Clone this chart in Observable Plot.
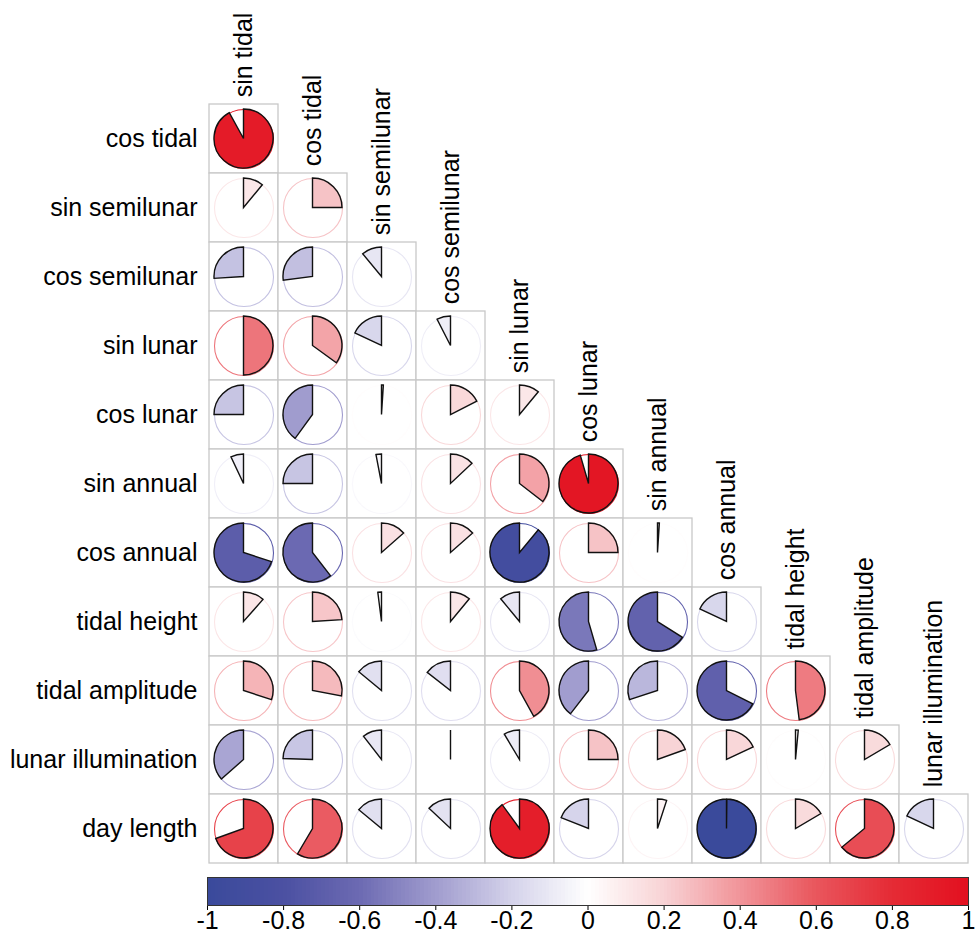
<!DOCTYPE html>
<html><head><meta charset="utf-8">
<script src="https://cdn.jsdelivr.net/npm/d3@7"></script>
<script src="https://cdn.jsdelivr.net/npm/@observablehq/plot@0.6"></script>
<style>
body{margin:0;background:#fff;font-family:"Liberation Sans",Arial,sans-serif;}
#chart svg{display:block;}
</style></head><body><div id="chart"></div>
<script>
// ---- data ----
const variables = ["sin tidal","cos tidal","sin semilunar","cos semilunar","sin lunar","cos lunar","sin annual","cos annual","tidal height","tidal amplitude","lunar illumination","day length"];
const rowLabels = variables.slice(1);
const colLabels = variables.slice(0, 11);
const corrRows = [
  [0.92],
  [0.11, 0.25],
  [-0.26, -0.27, -0.11],
  [0.50, 0.35, -0.18, -0.075],
  [-0.25, -0.40, 0.01, 0.175, 0.11],
  [-0.07, -0.25, -0.03, 0.13, 0.355, 0.955],
  [-0.70, -0.605, 0.135, 0.135, -0.89, 0.25, 0.01],
  [0.115, 0.24, -0.02, 0.11, -0.11, -0.545, -0.66, -0.18],
  [0.30, 0.28, -0.14, -0.145, 0.42, -0.395, -0.30, -0.675, 0.48],
  [-0.365, -0.245, -0.105, 0.0, -0.086, 0.25, 0.195, 0.18, 0.015, 0.165],
  [0.695, 0.585, -0.14, -0.13, 0.90, -0.19, 0.05, -0.998, 0.165, 0.64, -0.18]
];
const colorStops = [-1, -0.8, -0.6, -0.4, -0.2, 0, 0.2, 0.4, 0.6, 0.8, 1];
const colorRange = ["#3A4A9B","#4B50A2","#6C6AB2","#A09CCE","#D4D2EA","#FFFFFF","#F8D3D5","#F19499","#E9565D","#E52B35","#E3101F"];
const legendTicks = [-1, -0.8, -0.6, -0.4, -0.2, 0, 0.2, 0.4, 0.6, 0.8, 1];
const legendTickLabels = ["-1","-0.8","-0.6","-0.4","-0.2","0","0.2","0.4","0.6","0.8","1"];

// ---- tables ----
const cells = [];
corrRows.forEach((vals, i) => vals.forEach((v, j) => cells.push({row: rowLabels[i], col: colLabels[j], r: v})));
const colorScale = {type: "linear", domain: colorStops, range: colorRange, interpolate: "rgb"};
const font = "Liberation Sans, Arial, Helvetica, sans-serif";
const R = 29.5;

function pies(index, scales) {
  const {x, y, color} = scales;
  const bx = x.bandwidth ? x.bandwidth() / 2 : 0;
  const by = y.bandwidth ? y.bandwidth() / 2 : 0;
  const arc = d3.arc().innerRadius(0).outerRadius(R);
  const g = d3.create("svg:g");
  for (const d of cells) {
    g.append("path")
      .attr("transform", `translate(${x(d.col) + bx},${y(d.row) + by})`)
      .attr("d", arc({startAngle: 0, endAngle: d.r * 2 * Math.PI}))
      .attr("fill", color(d.r))
      .attr("stroke", "#111")
      .attr("stroke-width", 1.4)
      .attr("stroke-linejoin", "miter");
  }
  return g.node();
}

const main = Plot.plot({
  width: 975, height: 870,
  marginTop: 102, marginLeft: 207, marginRight: 5, marginBottom: 6,
  x: {domain: colLabels, padding: 0, axis: null},
  y: {domain: rowLabels, padding: 0, label: null, tickSize: 0, tickPadding: 10},
  color: colorScale,
  style: {fontSize: "25px", fontFamily: font, color: "#000", background: "#fff"},
  marks: [
    Plot.cell(cells, {x: "col", y: "row", fill: "white", stroke: "#c8c8c8", strokeWidth: 1.3}),
    Plot.dot(cells, {x: "col", y: "row", r: R, stroke: "r", fill: "none", strokeWidth: 1.1}),
    pies,
    Plot.text(colLabels, {x: d => d, y: (d, i) => rowLabels[i], text: d => d, rotate: -90, textAnchor: "start", dy: -(762 / 11 / 2 + 7), fontSize: 25, fill: "#000"})
  ]
});

const legendBins = d3.range(200).map(i => -1 + i / 100);
const bar = Plot.plot({
  width: 975, height: 78,
  marginTop: 7, marginBottom: 43, marginLeft: 207, marginRight: 7,
  x: {domain: [-1, 1], ticks: legendTicks, tickFormat: d => legendTickLabels[legendTicks.indexOf(d)], tickSize: 5, tickPadding: 1, label: null},
  y: {domain: [0, 1], axis: null},
  color: colorScale,
  style: {fontSize: "25px", fontFamily: font, color: "#000", background: "#fff"},
  marks: [
    Plot.rect(legendBins, {x1: d => d, x2: d => Math.min(1, d + 0.016), y1: 0, y2: 1, fill: d => d + 0.005, shapeRendering: "crispEdges"}),
    Plot.frame({stroke: "#333", strokeWidth: 1})
  ]
});

document.getElementById("chart").append(main, bar);
</script>
</body></html>
